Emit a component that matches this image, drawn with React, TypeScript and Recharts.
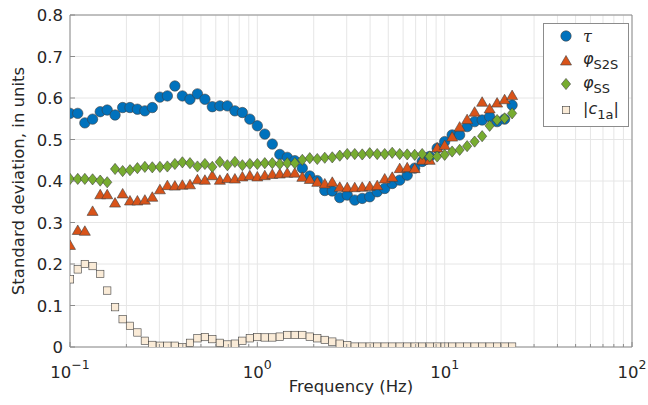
import {
  ScatterChart,
  Scatter,
  XAxis,
  YAxis,
  CartesianGrid,
} from 'recharts';

// frequencies (Hz), 60 log-spaced points
const FREQ_HZ = [
  0.1, 0.11, 0.12, 0.132, 0.145, 0.158, 0.174, 0.191, 0.209, 0.229,
  0.251, 0.275, 0.302, 0.331, 0.363, 0.398, 0.437, 0.479, 0.525, 0.575,
  0.631, 0.692, 0.759, 0.832, 0.912, 1.0, 1.096, 1.202, 1.318, 1.445,
  1.585, 1.738, 1.905, 2.089, 2.291, 2.512, 2.754, 3.02, 3.311, 3.631,
  3.981, 4.365, 4.786, 5.248, 5.754, 6.31, 6.918, 7.586, 8.318, 9.12,
  10.0, 10.96, 12.02, 13.18, 14.45, 15.85, 17.38, 19.05, 20.89, 22.91,
];

const TAU = [
  0.563, 0.563, 0.54, 0.549, 0.567, 0.571, 0.559, 0.577, 0.577, 0.573,
  0.569, 0.577, 0.602, 0.605, 0.629, 0.605, 0.597, 0.61, 0.597, 0.579,
  0.581, 0.581, 0.569, 0.565, 0.549, 0.533, 0.513, 0.489, 0.464, 0.457,
  0.449, 0.431, 0.412, 0.401, 0.377, 0.376, 0.36, 0.366, 0.354, 0.358,
  0.362, 0.374, 0.382, 0.394, 0.402, 0.414, 0.431, 0.447, 0.459, 0.479,
  0.495, 0.511, 0.511, 0.531, 0.543, 0.547, 0.555, 0.543, 0.549, 0.583,
];

const PHI_S2S = [
  0.246, 0.282, 0.28, 0.328, 0.368, 0.368, 0.348, 0.37, 0.353, 0.353,
  0.355, 0.362, 0.38, 0.39, 0.389, 0.391, 0.392, 0.404, 0.403, 0.414,
  0.403, 0.407, 0.406, 0.411, 0.414, 0.411, 0.414, 0.417, 0.418, 0.42,
  0.42, 0.41, 0.405, 0.398, 0.394, 0.398, 0.386, 0.385, 0.385, 0.386,
  0.388, 0.39, 0.406, 0.41, 0.431, 0.433, 0.431, 0.451, 0.451, 0.481,
  0.487, 0.507, 0.531, 0.549, 0.567, 0.591, 0.575, 0.589, 0.597, 0.607,
];

const PHI_SS = [
  0.405, 0.405, 0.405, 0.404, 0.401, 0.397, 0.429, 0.424, 0.426, 0.431,
  0.434, 0.433, 0.434, 0.435, 0.441, 0.445, 0.443, 0.435, 0.441, 0.434,
  0.446, 0.438, 0.446, 0.438, 0.441, 0.441, 0.443, 0.443, 0.441, 0.443,
  0.443, 0.451, 0.455, 0.453, 0.456, 0.457, 0.461, 0.465, 0.465, 0.464,
  0.467, 0.465, 0.465, 0.468, 0.465, 0.464, 0.463, 0.465, 0.459, 0.459,
  0.463, 0.471, 0.475, 0.484, 0.495, 0.508, 0.533, 0.547, 0.551, 0.563,
];

const C1A = [
  0.163, 0.187, 0.2, 0.195, 0.176, 0.136, 0.096, 0.067, 0.051, 0.035,
  0.015, 0.005, 0.003, 0.003, 0.003, 0.0, 0.01, 0.021, 0.024, 0.019,
  0.01, 0.006, 0.008, 0.015, 0.021, 0.024, 0.023, 0.023, 0.025, 0.029,
  0.029, 0.029, 0.025, 0.021, 0.017, 0.013, 0.008, 0.004, 0.001, 0.001,
  0.001, 0.001, 0.001, 0.001, 0.001, 0.001, 0.001, 0.001, 0.001, 0.001,
  0.001, 0.001, 0.001, 0.001, 0.001, 0.001, 0.001, 0.001, 0.001, 0.001,
];

const X_MAJOR = [0.1, 1, 10, 100];
const X_EXP = ['\u22121', '0', '1', '2'];
const X_TICKS = [
  0.1, 0.2, 0.3, 0.4, 0.5, 0.6, 0.7, 0.8, 0.9,
  1, 2, 3, 4, 5, 6, 7, 8, 9,
  10, 20, 30, 40, 50, 60, 70, 80, 90, 100,
];
const Y_TICKS = [0, 0.1, 0.2, 0.3, 0.4, 0.5, 0.6, 0.7, 0.8];

const BLUE = '#0072BD';
const ORANGE = '#D95319';
const GREEN = '#77AC30';
const BEIGE = '#FAEBD7';
const EDGE = '#3f3f3f';
const AXIS = '#8c8c8c';
const TEXT = '#262626';
const FONT = '"DejaVu Sans", sans-serif';
const FS = 16.5;

const toPoints = (vals: number[]) =>
  FREQ_HZ.map((f, i) => ({ f, v: vals[i] }));

const CircleMark = ({ cx, cy }: any) => (
  <circle cx={cx} cy={cy} r={5.2} fill={BLUE} stroke={EDGE} strokeWidth={0.6} />
);
const TriMark = ({ cx, cy }: any) => (
  <polygon
    points={`${cx},${cy - 5} ${cx + 5.5},${cy + 4.5} ${cx - 5.5},${cy + 4.5}`}
    fill={ORANGE}
    stroke={EDGE}
    strokeWidth={0.6}
  />
);
const DiamondMark = ({ cx, cy }: any) => (
  <polygon
    points={`${cx},${cy - 5.6} ${cx + 4.6},${cy} ${cx},${cy + 5.6} ${cx - 4.6},${cy}`}
    fill={GREEN}
    stroke={EDGE}
    strokeWidth={0.6}
  />
);
const SquareMark = ({ cx, cy }: any) => (
  <rect
    x={cx - 3.7}
    y={cy - 3.7}
    width={7.4}
    height={7.4}
    fill={BEIGE}
    stroke={EDGE}
    strokeWidth={0.6}
  />
);

const BottomTick = ({ x, y, payload }: any) => {
  const idx = X_MAJOR.indexOf(payload.value);
  const major = idx >= 0;
  return (
    <g>
      <line x1={x} y1={y} x2={x} y2={y - (major ? 5 : 3)} stroke={AXIS} />
      {major && (
        <text x={x} y={y + 31} textAnchor="middle" fill={TEXT} fontSize={FS} fontFamily={FONT}>
          10
          <tspan dy={-9} fontSize={12.5}>
            {X_EXP[idx]}
          </tspan>
        </text>
      )}
    </g>
  );
};

const TopTick = ({ x, y, payload }: any) => {
  const major = X_MAJOR.includes(payload.value);
  return <line x1={x} y1={y} x2={x} y2={y + (major ? 5 : 3)} stroke={AXIS} />;
};

const LeftTick = ({ x, y, payload }: any) => (
  <g>
    <line x1={x} y1={y} x2={x + 5} y2={y} stroke={AXIS} />
    <text x={x - 7} y={y} dy={6} textAnchor="end" fill={TEXT} fontSize={FS} fontFamily={FONT}>
      {payload.value === 0 ? '0' : payload.value.toFixed(1)}
    </text>
  </g>
);

const RightTick = ({ x, y }: any) => (
  <line x1={x} y1={y} x2={x - 5} y2={y} stroke={AXIS} />
);

const row = (center: number) =>
  ({
    position: 'absolute',
    left: 0,
    top: center - 12,
    height: 24,
    display: 'flex',
    alignItems: 'center',
  }) as const;
const iconBox = { width: 24, marginLeft: 10, display: 'flex', justifyContent: 'center' } as const;
const label = { marginLeft: 5, whiteSpace: 'nowrap' } as const;
const sub = { fontSize: 13, fontStyle: 'normal', verticalAlign: -5 } as const;

const LegendBox = () => (
  <div
    style={{
      position: 'absolute',
      left: 543,
      top: 23,
      width: 86,
      height: 104,
      boxSizing: 'border-box',
      border: `1px solid ${AXIS}`,
      background: '#fff',
      fontFamily: FONT,
      color: TEXT,
      fontSize: 16,
    }}
  >
    <div style={row(12)}>
      <div style={iconBox}>
        <svg width={14} height={14}>
          <CircleMark cx={7} cy={7} />
        </svg>
      </div>
      <span style={{ ...label, fontStyle: 'italic', fontFamily: '"DejaVu Serif", serif' }}>τ</span>
    </div>
    <div style={row(36)}>
      <div style={iconBox}>
        <svg width={14} height={14}>
          <TriMark cx={7} cy={7.5} />
        </svg>
      </div>
      <span style={label}>
        <i>φ</i>
        <span style={sub}>S2S</span>
      </span>
    </div>
    <div style={row(60)}>
      <div style={iconBox}>
        <svg width={14} height={14}>
          <DiamondMark cx={7} cy={7} />
        </svg>
      </div>
      <span style={label}>
        <i>φ</i>
        <span style={sub}>SS</span>
      </span>
    </div>
    <div style={row(86)}>
      <div style={iconBox}>
        <svg width={14} height={14}>
          <SquareMark cx={7} cy={7} />
        </svg>
      </div>
      <span style={label}>
        |<i>c</i>
        <span style={sub}>1a</span>|
      </span>
    </div>
  </div>
);

export default function App() {
  return (
    <div style={{ position: 'fixed', left: 0, top: 0, width: 648, height: 405, background: '#fff' }}>
      <ScatterChart
        width={648}
        height={405}
        margin={{ top: 14, right: 15, left: 0, bottom: 0 }}
      >
        <CartesianGrid stroke="#e6e6e6" strokeWidth={1} />
        <XAxis
          dataKey="f"
          type="number"
          scale="log"
          domain={[0.1, 100]}
          ticks={X_TICKS}
          interval={0}
          allowDataOverflow
          height={58}
          stroke={AXIS}
          tickSize={0}
          tickMargin={0}
          tickLine={false}
          tick={<BottomTick />}
          label={({ viewBox }: any) => (
            <text
              x={viewBox.x + viewBox.width / 2}
              y={392}
              textAnchor="middle"
              fill={TEXT}
              fontSize={FS}
              fontFamily={FONT}
            >
              Frequency (Hz)
            </text>
          )}
        />
        <XAxis
          xAxisId="top"
          orientation="top"
          type="number"
          scale="log"
          domain={[0.1, 100]}
          ticks={X_TICKS}
          interval={0}
          allowDataOverflow
          height={1}
          stroke={AXIS}
          tickSize={0}
          tickMargin={0}
          tickLine={false}
          tick={<TopTick />}
        />
        <YAxis
          dataKey="v"
          type="number"
          domain={[0, 0.8]}
          ticks={Y_TICKS}
          interval={0}
          allowDataOverflow
          width={70}
          stroke={AXIS}
          tickSize={0}
          tickMargin={0}
          tickLine={false}
          tick={<LeftTick />}
          label={({ viewBox }: any) => {
            const cy = viewBox.y + viewBox.height / 2;
            return (
              <text
                x={24}
                y={cy}
                transform={`rotate(-90 24 ${cy})`}
                textAnchor="middle"
                fill={TEXT}
                fontSize={FS}
                fontFamily={FONT}
              >
                Standard deviation, in units
              </text>
            );
          }}
        />
        <YAxis
          yAxisId="right"
          orientation="right"
          type="number"
          domain={[0, 0.8]}
          ticks={Y_TICKS}
          interval={0}
          width={1}
          stroke={AXIS}
          tickSize={0}
          tickMargin={0}
          tickLine={false}
          tick={<RightTick />}
        />
        <Scatter data={toPoints(TAU)} shape={CircleMark} isAnimationActive={false} />
        <Scatter data={toPoints(PHI_S2S)} shape={TriMark} isAnimationActive={false} />
        <Scatter data={toPoints(PHI_SS)} shape={DiamondMark} isAnimationActive={false} />
        <Scatter data={toPoints(C1A)} shape={SquareMark} isAnimationActive={false} />
      </ScatterChart>
      <LegendBox />
    </div>
  );
}
